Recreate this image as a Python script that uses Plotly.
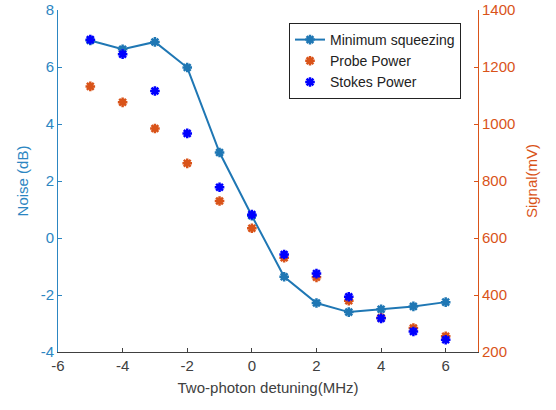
import plotly.graph_objects as go

detuning = [-5, -4, -3, -2, -1, 0, 1, 2, 3, 4, 5, 6]
min_squeezing = [6.93, 6.62, 6.88, 5.98, 3.0, 0.78, -1.36, -2.28, -2.6, -2.5, -2.4, -2.25]
probe_power = [1132, 1076, 984, 862, 730, 634, 531, 462, 380, 320, 284, 255]
stokes_power = [1296, 1245, 1116, 967, 778, 682, 542, 475, 394, 318, 272, 243]

x_ticks = [-6, -4, -2, 0, 2, 4, 6]
left_ticks = [-4, -2, 0, 2, 4, 6, 8]
right_ticks = [200, 400, 600, 800, 1000, 1200, 1400]

BLUE_AX = "#2C86C2"
LINE_BLUE = "#1F77B4"
ORANGE = "#D95319"
STOKES = "#0000FF"
DARK = "#404040"
FONT = "Liberation Sans"

fig = go.Figure()
fig.add_trace(go.Scatter(
    x=detuning, y=min_squeezing, mode="lines+markers", name="Minimum squeezing",
    line=dict(color=LINE_BLUE, width=2),
    marker=dict(symbol="asterisk-open", size=8, color=LINE_BLUE, line=dict(color=LINE_BLUE, width=2.5)),
    xaxis="x", yaxis="y",
))
fig.add_trace(go.Scatter(
    x=detuning, y=probe_power, mode="markers", name="Probe Power",
    marker=dict(symbol="asterisk-open", size=8, color=ORANGE, line=dict(color=ORANGE, width=2.5)),
    xaxis="x", yaxis="y2",
))
fig.add_trace(go.Scatter(
    x=detuning, y=stokes_power, mode="markers", name="Stokes Power",
    marker=dict(symbol="asterisk-open", size=8, color=STOKES, line=dict(color=STOKES, width=2.5)),
    xaxis="x", yaxis="y2",
))

fig.update_layout(
    width=556, height=410,
    margin=dict(l=58, r=78, t=10, b=58, autoexpand=False),
    paper_bgcolor="white", plot_bgcolor="white",
    font=dict(family=FONT, size=15, color=DARK),
    showlegend=True,
    legend=dict(
        x=0.55, y=0.962, xanchor="left", yanchor="top",
        bgcolor="white", bordercolor="#222222", borderwidth=1,
        font=dict(family=FONT, size=14, color="#222222"),
        tracegroupgap=0, itemwidth=30,
    ),
    xaxis=dict(
        range=[-6, 7], tickvals=x_ticks, ticktext=[str(v) for v in x_ticks],
        showgrid=False, zeroline=False, showline=True, linecolor=DARK, linewidth=1,
        ticks="inside", ticklen=4, tickcolor=DARK, automargin=False,
        tickfont=dict(family=FONT, size=15, color=DARK), ticklabeloverflow="allow",
        title=dict(text="Two-photon detuning(MHz)", font=dict(family=FONT, size=15, color=DARK), standoff=9),
    ),
    xaxis2=dict(
        range=[-6, 7], tickvals=x_ticks, overlaying="x", side="top", anchor="y",
        showgrid=False, zeroline=False, showline=True, linecolor=DARK, linewidth=1,
        ticks="inside", ticklen=4, tickcolor=DARK, showticklabels=False, automargin=False,
    ),
    yaxis=dict(
        range=[-4, 8], tickvals=left_ticks, ticktext=[str(v) for v in left_ticks],
        showgrid=False, zeroline=False, showline=True, linecolor=BLUE_AX, linewidth=1,
        ticks="inside", ticklen=4, tickcolor=BLUE_AX, automargin=False,
        tickfont=dict(family=FONT, size=15, color=BLUE_AX), ticklabeloverflow="allow",
        title=dict(text="Noise (dB)", font=dict(family=FONT, size=15, color=BLUE_AX), standoff=8),
    ),
    yaxis2=dict(
        range=[200, 1400], tickvals=right_ticks, ticktext=[str(v) for v in right_ticks],
        overlaying="y", side="right",
        showgrid=False, zeroline=False, showline=True, linecolor=ORANGE, linewidth=1,
        ticks="inside", ticklen=4, tickcolor=ORANGE, automargin=False,
        tickfont=dict(family=FONT, size=15, color=ORANGE), ticklabeloverflow="allow",
        title=dict(text="Signal(mV)", font=dict(family=FONT, size=15, color=ORANGE), standoff=12),
    ),
)

fig.write_html("out.html", config={"displayModeBar": False},
               post_script="document.body.style.margin='0';")
